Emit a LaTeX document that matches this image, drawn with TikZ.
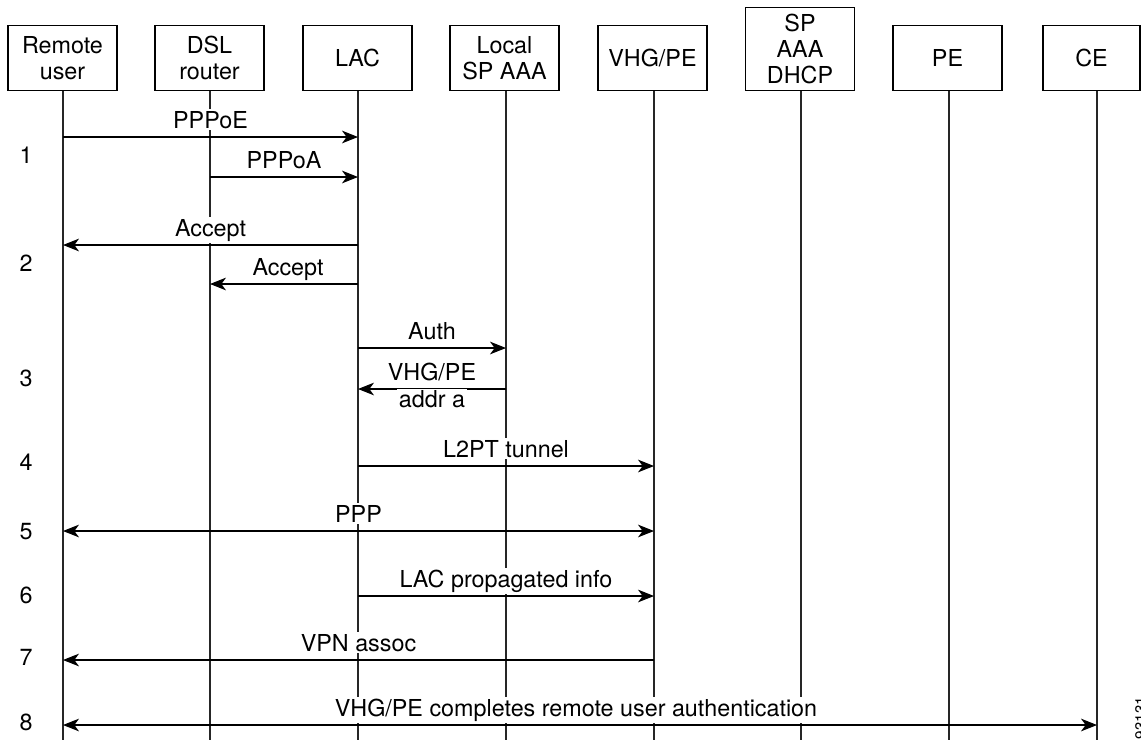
\documentclass[tikz,border=0pt]{standalone}
\usepackage{fontspec}
\setmainfont{TeX Gyre Heros}
\usetikzlibrary{arrows.meta}

\begin{document}
\begin{tikzpicture}[x=0.75pt,y=-0.75pt,
  txt/.style={font=\fontsize{17.5}{19.5}\selectfont},
  actor/.style={txt,draw,line width=1pt,align=center,anchor=south,
    minimum width=81.75pt,minimum height=48.75pt,inner sep=0pt},
  life/.style={line width=1pt,draw=black!85},
  msg/.style={line width=0.8pt,-{Stealth[length=12pt,width=9.5pt,inset=3.5pt]}},
  bimsg/.style={line width=0.8pt,{Stealth[length=12pt,width=9.5pt,inset=3.5pt]}-{Stealth[length=12pt,width=9.5pt,inset=3.5pt]}},
  lbl/.style={txt,fill=white,inner sep=1.5pt,anchor=base,yshift=6.75pt},
  lblbelow/.style={txt,fill=white,inner sep=1.5pt,anchor=base,yshift=-14pt},
  stepno/.style={txt,anchor=base}]

\useasboundingbox (0,0) rectangle (1141,740);

% participants
\node[actor] (ru)   at (62.5,91)  {Remote\\user};
\node[actor] (dsl)  at (209.5,91) {DSL\\router};
\node[actor] (lac)  at (357.5,91) {LAC};
\node[actor] (aaa)  at (504.5,91) {Local\\SP AAA};
\node[actor] (vhg)  at (652.5,91) {VHG/PE};
\node[actor,minimum height=62.25pt] (dhcp) at (800,91) {SP\\AAA\\DHCP};
\node[actor] (pe)   at (947.5,91) {PE};
\node[actor,minimum width=72.75pt] (ce) at (1091.5,91) {CE};

% lifeline ends
\coordinate (l1) at (63,740);
\coordinate (l2) at (210,740);
\coordinate (l3) at (358,740);
\coordinate (l4) at (506,740);
\coordinate (l5) at (654,740);
\coordinate (l6) at (801,740);
\coordinate (l7) at (949,740);
\coordinate (l8) at (1097,740);

\draw[life] (ru.south -| l1) -- (l1);
\draw[life] (dsl.south -| l2) -- (l2);
\draw[life] (lac.south -| l3) -- (l3);
\draw[life] (aaa.south -| l4) -- (l4);
\draw[life] (vhg.south -| l5) -- (l5);
\draw[life] (dhcp.south -| l6) -- (l6);
\draw[life] (pe.south -| l7) -- (l7);
\draw[life] (ce.south -| l8) -- (l8);

% message rows
\coordinate (m1) at (0,137);
\coordinate (m2) at (0,177);
\coordinate (m3) at (0,245);
\coordinate (m4) at (0,284);
\coordinate (m5) at (0,348);
\coordinate (m6) at (0,389);
\coordinate (m7) at (0,466);
\coordinate (m8) at (0,531);
\coordinate (m9) at (0,596);
\coordinate (m10) at (0,660);
\coordinate (m11) at (0,725);

% messages
\draw[msg] (l1 |- m1) -- node[lbl] {PPPoE} (l3 |- m1);
\draw[msg] (l2 |- m2) -- node[lbl] {PPPoA} (l3 |- m2);
\draw[msg] (l3 |- m3) -- node[lbl] {Accept} (l1 |- m3);
\draw[msg] (l3 |- m4) -- node[lbl,xshift=3pt] {Accept} (l2 |- m4);
\draw[msg] (l3 |- m5) -- node[lbl] {Auth} (l4 |- m5);
\draw[msg] (l4 |- m6) -- node[lbl] {VHG/PE} node[lblbelow] {addr a} (l3 |- m6);
\draw[msg] (l3 |- m7) -- node[lbl] {L2PT tunnel} (l5 |- m7);
\draw[bimsg] (l1 |- m8) -- node[lbl] {PPP} (l5 |- m8);
\draw[msg] (l3 |- m9) -- node[lbl] {LAC propagated info} (l5 |- m9);
\draw[msg] (l5 |- m10) -- node[lbl] {VPN assoc} (l1 |- m10);
\draw[bimsg] (l1 |- m11) -- node[lbl,xshift=-3pt] {VHG/PE completes remote user authentication} (l8 |- m11);

% step numbers
\node[stepno] (s1) at (26,163) {1};
\node[stepno] (s2) at (26,271) {2};
\node[stepno] (s3) at (26,386) {3};
\node[stepno] (s4) at (26,470) {4};
\node[stepno] (s5) at (26,539) {5};
\node[stepno] (s6) at (26,603) {6};
\node[stepno] (s7) at (26,665) {7};
\node[stepno] (s8) at (26,730) {8};

% figure number along the right edge
\begin{scope}
  \clip (0,0) rectangle (1141,740);
  \node[rotate=90,anchor=north,inner sep=0pt,font=\fontsize{11.5}{13}\selectfont] (fig) at (1135,718) {93131};
\end{scope}
\end{tikzpicture}
\end{document}
